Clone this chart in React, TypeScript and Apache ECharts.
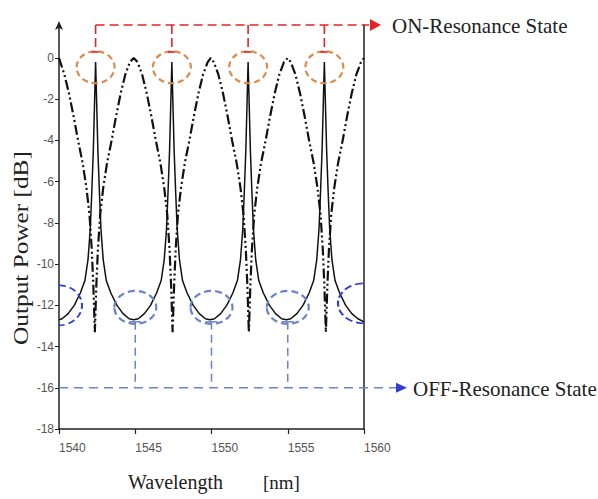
import React, { useEffect, useRef } from "react";
import * as echarts from "echarts";

// ---- data ----
const xTicks = [1540, 1545, 1550, 1555, 1560];
const yTicks = [-18, -16, -14, -12, -10, -8, -6, -4, -2, 0];

// drop port (solid): [wavelength nm, dB]
const solidLine: [number, number][] = [
  [1540.0, -12.7], [1540.2, -12.65], [1540.6, -12.4], [1541.0, -12.0], [1541.4, -11.4],
  [1541.7, -10.8], [1541.9, -9.8], [1542.05, -8.3], [1542.15, -6.5], [1542.25, -4.5],
  [1542.32, -2.5], [1542.4, -0.2], [1542.48, -2.5], [1542.55, -4.5], [1542.65, -6.5],
  [1542.75, -8.3], [1542.9, -9.8], [1543.1, -10.8], [1543.4, -11.4], [1543.8, -12.0],
  [1544.2, -12.4], [1544.6, -12.65], [1544.9, -12.7],
  [1545.2, -12.65], [1545.6, -12.4], [1546.0, -12.0], [1546.4, -11.4], [1546.7, -10.8],
  [1546.9, -9.8], [1547.05, -8.3], [1547.15, -6.5], [1547.25, -4.5], [1547.32, -2.5],
  [1547.4, -0.2], [1547.48, -2.5], [1547.55, -4.5], [1547.65, -6.5], [1547.75, -8.3],
  [1547.9, -9.8], [1548.1, -10.8], [1548.4, -11.4], [1548.8, -12.0], [1549.2, -12.4],
  [1549.6, -12.65], [1549.9, -12.7],
  [1550.2, -12.65], [1550.6, -12.4], [1551.0, -12.0], [1551.4, -11.4], [1551.7, -10.8],
  [1551.9, -9.8], [1552.05, -8.3], [1552.15, -6.5], [1552.25, -4.5], [1552.32, -2.5],
  [1552.4, -0.2], [1552.48, -2.5], [1552.55, -4.5], [1552.65, -6.5], [1552.75, -8.3],
  [1552.9, -9.8], [1553.1, -10.8], [1553.4, -11.4], [1553.8, -12.0], [1554.2, -12.4],
  [1554.6, -12.65], [1554.9, -12.7],
  [1555.2, -12.65], [1555.6, -12.4], [1556.0, -12.0], [1556.4, -11.4], [1556.7, -10.8],
  [1556.9, -9.8], [1557.05, -8.3], [1557.15, -6.5], [1557.25, -4.5], [1557.32, -2.5],
  [1557.4, -0.2], [1557.48, -2.5], [1557.55, -4.5], [1557.65, -6.5], [1557.75, -8.3],
  [1557.9, -9.8], [1558.1, -10.8], [1558.4, -11.4], [1558.8, -12.0], [1559.2, -12.4],
  [1559.6, -12.65], [1560.0, -12.8],
];

// through port (dash-dot-dot): [wavelength nm, dB]
const dashDotLine: [number, number][] = [
  [1540.0, 0], [1540.35, -0.8], [1540.65, -1.7], [1540.95, -2.8], [1541.25, -4.0],
  [1541.55, -5.1], [1541.8, -6.3], [1542.0, -7.6], [1542.15, -9.3], [1542.25, -11.0],
  [1542.35, -13.3], [1542.45, -11.0], [1542.55, -9.3], [1542.7, -7.6], [1542.9, -6.3],
  [1543.15, -5.1], [1543.45, -4.0], [1543.75, -2.8], [1544.05, -1.7], [1544.35, -0.8],
  [1544.65, -0.2], [1544.9, 0],
  [1545.15, -0.2], [1545.45, -0.8], [1545.75, -1.7], [1546.05, -2.8], [1546.35, -4.0],
  [1546.65, -5.1], [1546.9, -6.3], [1547.1, -7.6], [1547.25, -9.3], [1547.35, -11.0],
  [1547.45, -13.3], [1547.55, -11.0], [1547.65, -9.3], [1547.8, -7.6], [1548.0, -6.3],
  [1548.25, -5.1], [1548.55, -4.0], [1548.85, -2.8], [1549.15, -1.7], [1549.45, -0.8],
  [1549.75, -0.2], [1549.95, 0],
  [1550.15, -0.2], [1550.45, -0.8], [1550.75, -1.7], [1551.05, -2.8], [1551.35, -4.0],
  [1551.65, -5.1], [1551.9, -6.3], [1552.1, -7.6], [1552.25, -9.3], [1552.35, -11.0],
  [1552.45, -13.3], [1552.55, -11.0], [1552.65, -9.3], [1552.8, -7.6], [1553.0, -6.3],
  [1553.25, -5.1], [1553.55, -4.0], [1553.85, -2.8], [1554.15, -1.7], [1554.45, -0.8],
  [1554.75, -0.2], [1555.0, 0],
  [1555.2, -0.2], [1555.5, -0.8], [1555.8, -1.7], [1556.1, -2.8], [1556.4, -4.0],
  [1556.7, -5.1], [1556.95, -6.3], [1557.15, -7.6], [1557.3, -9.3], [1557.4, -11.0],
  [1557.5, -13.3], [1557.6, -11.0], [1557.7, -9.3], [1557.85, -7.6], [1558.05, -6.3],
  [1558.3, -5.1], [1558.6, -4.0], [1558.9, -2.8], [1559.2, -1.7], [1559.5, -0.8],
  [1559.8, -0.2], [1560.0, 0],
];

// annotation anchors
const onPeaks = [1542.4, 1547.4, 1552.4, 1557.4];
const offTroughs = [1545, 1550, 1555];
const onLevel = 1.6; // dB of the red ON line (top of frame)
const offLevel = -16; // dB of the blue OFF line
const onLabel = "ON-Resonance State";
const offLabel = "OFF-Resonance State";
const xTitle = "Wavelength";
const xUnit = "[nm]";
const yTitle = "Output Power [dB]";

const SERIF = "'Liberation Serif', 'Times New Roman', serif";
const SANS = "'Liberation Sans', Arial, sans-serif";

const RED = "#e0262a";
const ORANGE = "#d98c4c";
const LBLUE = "#6a84cc";
const DBLUE = "#2f3fd6";

export default function App() {
  const ref = useRef<HTMLDivElement>(null);
  useEffect(() => {
    if (!ref.current) return;
    const chart = echarts.init(ref.current, null, { renderer: "svg" });
    chart.setOption({
      animation: false,
      backgroundColor: "#ffffff",
      grid: { left: 59, right: 234, top: 25, bottom: 70 },
      xAxis: {
        type: "value",
        min: 1540,
        max: 1560,
        interval: 5,
        axisLine: { show: true, onZero: false, lineStyle: { color: "#222", width: 1.5 } },
        axisTick: { show: true, inside: false, length: 5, lineStyle: { color: "#222", width: 1.2 } },
        axisLabel: {
          color: "#555",
          fontSize: 12,
          fontFamily: SANS,
          align: "left",
          margin: 13,
          formatter: (v: number) => (xTicks.includes(v) ? String(v) : ""),
        },
        splitLine: { show: false },
      },
      yAxis: [
        {
          type: "value",
          min: -18,
          max: onLevel,
          position: "left",
          axisLine: {
            show: true,
            onZero: false,
            lineStyle: { color: "#222", width: 1.5 },
            symbol: ["none", "arrow"],
            symbolSize: [6, 9],
            symbolOffset: [0, 4],
          },
          axisTick: { show: true, inside: false, length: 4, customValues: yTicks, lineStyle: { color: "#222" } },
          axisLabel: {
            customValues: yTicks,
            color: "#555",
            fontSize: 12,
            fontFamily: SANS,
            margin: 5,
          },
          splitLine: { show: false },
        },
        {
          type: "value",
          min: -18,
          max: onLevel,
          position: "right",
          axisLine: { show: true, onZero: false, lineStyle: { color: "#222", width: 1.5 } },
          axisTick: { show: false },
          axisLabel: { show: false },
          splitLine: { show: false },
        },
      ],
      series: [
        {
          type: "line",
          data: dashDotLine,
          symbol: "none",
          clip: true,
          lineStyle: { color: "#111", width: 2.2, type: [10, 3, 2, 3, 2, 3] },
          z: 2,
        },
        {
          type: "line",
          data: solidLine,
          symbol: "none",
          clip: true,
          lineStyle: { color: "#111", width: 1.5 },
          z: 3,
        },
      ],
    });

    const p = (x: number, y: number) => chart.convertToPixel({ gridIndex: 0 }, [x, y]) as number[];
    const g: any[] = [];
    const dashed = (x1: number, y1: number, x2: number, y2: number, color: string, w: number, dash: number[]) => ({
      type: "line",
      shape: { x1, y1, x2, y2 },
      style: { stroke: color, lineWidth: w, lineDash: dash },
      z: 10,
    });

    // ON-resonance (red) annotation
    const top = p(onPeaks[0], onLevel);
    const rightEdge = p(1560, onLevel)[0];
    g.push(dashed(top[0], top[1], rightEdge + 5, top[1], RED, 1.6, [9, 5]));
    g.push({
      type: "polygon",
      shape: { points: [[rightEdge + 6, top[1] - 6], [rightEdge + 6, top[1] + 6], [rightEdge + 17, top[1]]] },
      style: { fill: RED },
      z: 10,
    });
    onPeaks.forEach((w) => {
      const a = p(w, onLevel);
      g.push(dashed(a[0], a[1], a[0], a[1] + 27, RED, 1.6, [9, 4]));
      g.push(dashed(a[0] - 4, a[1] + 27, a[0] + 3, a[1] + 27, RED, 1.6, []));
      const c = p(w, -0.45);
      g.push({
        type: "ellipse",
        shape: { cx: c[0], cy: c[1], rx: 19, ry: 16 },
        style: { fill: "none", stroke: ORANGE, lineWidth: 2.2, lineDash: [6, 4] },
        z: 9,
      });
    });

    // OFF-resonance (blue) annotation
    const offL = p(1540, offLevel);
    g.push(dashed(offL[0], offL[1], 396, offL[1], LBLUE, 1.6, [9, 6]));
    g.push({
      type: "polygon",
      shape: { points: [[396, offL[1] - 5], [396, offL[1] + 5], [407, offL[1]]] },
      style: { fill: DBLUE },
      z: 10,
    });
    offTroughs.forEach((w) => {
      const a = p(w, -12.8);
      const b = p(w, offLevel);
      g.push(dashed(a[0], a[1], b[0], b[1], LBLUE, 1.5, [8, 5]));
      g.push(dashed(a[0] - 6, a[1], a[0] + 6, a[1], LBLUE, 1.5, []));
      const c = p(w, -12.1);
      g.push({
        type: "ellipse",
        shape: { cx: c[0], cy: c[1], rx: 21, ry: 16.5 },
        style: { fill: "none", stroke: LBLUE, lineWidth: 2.2, lineDash: [7, 4] },
        z: 9,
      });
    });
    // partial ellipses at the frame edges
    const le = p(1540, -12.0);
    g.push({
      type: "arc",
      x: le[0],
      y: le[1],
      scaleY: 20 / 23,
      shape: { cx: 0, cy: 0, r: 23, startAngle: -Math.PI / 2, endAngle: Math.PI / 2, clockwise: true },
      style: { fill: "none", stroke: DBLUE, lineWidth: 2, lineDash: [7, 4] },
      z: 9,
    });
    const re = p(1560, -11.9);
    g.push({
      type: "arc",
      x: re[0],
      y: re[1],
      scaleY: 20 / 26,
      shape: { cx: 0, cy: 0, r: 26, startAngle: Math.PI / 2, endAngle: (3 * Math.PI) / 2, clockwise: true },
      style: { fill: "none", stroke: DBLUE, lineWidth: 2.2, lineDash: [8, 4] },
      z: 9,
    });

    // texts
    g.push({
      type: "text",
      x: 392,
      y: top[1] + 1,
      style: { text: onLabel, font: `21px ${SERIF}`, fill: "#222", textAlign: "left", textVerticalAlign: "middle" },
      z: 11,
    });
    g.push({
      type: "text",
      x: 413,
      y: offL[1] + 1,
      style: { text: offLabel, font: `21px ${SERIF}`, fill: "#222", textAlign: "left", textVerticalAlign: "middle" },
      z: 11,
    });
    g.push({
      type: "text",
      x: 128,
      y: 482,
      style: { text: xTitle, font: `20px ${SERIF}`, fill: "#222", textAlign: "left", textVerticalAlign: "middle" },
      z: 11,
    });
    g.push({
      type: "text",
      x: 263,
      y: 482,
      style: { text: xUnit, font: `19px ${SERIF}`, fill: "#222", textAlign: "left", textVerticalAlign: "middle" },
      z: 11,
    });
    g.push({
      type: "text",
      x: 21,
      y: 248,
      rotation: Math.PI / 2,
      scaleX: 1.15,
      style: { text: yTitle, font: `22px ${SERIF}`, fill: "#222", textAlign: "center", textVerticalAlign: "middle" },
      z: 11,
    });

    chart.setOption({ graphic: g });
    return () => chart.dispose();
  }, []);
  return <div ref={ref} style={{ position: "absolute", left: 0, top: 0, width: 598, height: 499 }} />;
}
